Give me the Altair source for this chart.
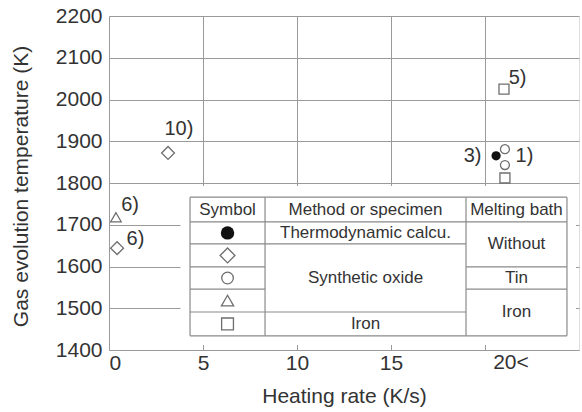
import altair as alt
import pandas as pd

FONT = "Liberation Sans"
INK = "#333333"
GRID = "#9a9a9a"
EDGE = "#8a8a8a"
MARK = "#6e6e6e"

# ---------------- data ----------------
pt_rate = [20.59, 21.06, 21.06, 21.06, 21.01, 3.14, 0.37, 0.43]
pt_temp = [1865, 1881, 1843, 1812, 2025, 1872, 1718, 1644]
pt_kind = ["calc", "oxide_tin", "oxide_tin", "iron_iron", "iron_iron",
           "oxide_none", "oxide_iron", "oxide_none"]

lab_text = ["5)", "3)", "1)", "10)", "6)", "6)"]
lab_rate = [21.73, 19.34, 22.10, 3.72, 1.12, 1.41]
lab_temp = [2051, 1865, 1865, 1929, 1747, 1665]

x_ticks = [0, 5, 10, 15, 20]
y_ticks = [1400, 1500, 1600, 1700, 1800, 1900, 2000, 2100, 2200]

legend_kind = ["calc", "oxide_none", "oxide_tin", "oxide_iron", "iron_iron"]
header = ["Symbol", "Method or specimen", "Melting bath"]
method_text = ["Thermodynamic calcu.", "Synthetic oxide", "Iron"]
method_span = [(0, 1), (1, 4), (4, 5)]
bath_text = ["Without", "Tin", "Iron"]
bath_span = [(0, 2), (2, 3), (3, 5)]

# ---------------- layout / styles ----------------
W, H = 470, 334
col_edges = [4.31, 8.30, 18.99, 24.36]
row_edges = [1766, 1707, 1654, 1599, 1546, 1491, 1434]  # top, header bottom, body rows
pad_box = dict(x=3.80, x2=24.84, y=1412, y2=1793)

shape_of = {"calc": "circle", "oxide_none": "diamond", "oxide_tin": "circle",
            "oxide_iron": "triangle-up", "iron_iron": "square"}
pt_size = {"calc": 85, "oxide_none": 165, "oxide_tin": 80, "oxide_iron": 110, "iron_iron": 100}
leg_size = {"calc": 180, "oxide_none": 220, "oxide_tin": 135, "oxide_iron": 150, "iron_iron": 140}

xs = alt.Scale(domain=[0, 25], nice=False, zero=False)
ys = alt.Scale(domain=[1400, 2200], nice=False, zero=False)

pts = pd.DataFrame({"rate": pt_rate, "temp": pt_temp, "kind": pt_kind})
pts["shape"] = pts["kind"].map(shape_of)
pts["size"] = pts["kind"].map(pt_size)

labs = pd.DataFrame({"rate": lab_rate, "temp": lab_temp, "text": lab_text})

# table segments
body = row_edges[1:]
row_mid = [(body[i] + body[i + 1]) / 2 for i in range(len(body) - 1)]
segs = []
for y in (row_edges[0], row_edges[1], row_edges[-1]):
    segs.append((col_edges[0], col_edges[-1], y, y))
for x in col_edges:
    segs.append((x, x, row_edges[0], row_edges[-1]))
for i in range(1, len(body) - 1):
    segs.append((col_edges[0], col_edges[1], body[i], body[i]))
for spans, c in ((method_span, 1), (bath_span, 2)):
    for a, b in spans[:-1]:
        segs.append((col_edges[c], col_edges[c + 1], body[b], body[b]))
seg_df = pd.DataFrame(segs, columns=["x", "x2", "y", "y2"])

col_mid = [(col_edges[i] + col_edges[i + 1]) / 2 for i in range(3)]
cells = []
for i, t in enumerate(header):
    cells.append((col_mid[i], (row_edges[0] + row_edges[1]) / 2, t))
for t, (a, b) in zip(method_text, method_span):
    cells.append((col_mid[1], (body[a] + body[b]) / 2, t))
for t, (a, b) in zip(bath_text, bath_span):
    cells.append((col_mid[2], (body[a] + body[b]) / 2, t))
cell_df = pd.DataFrame(cells, columns=["x", "y", "text"])

leg = pd.DataFrame({"kind": legend_kind, "x": col_mid[0], "y": row_mid})
leg["shape"] = leg["kind"].map(shape_of)
leg["size"] = leg["kind"].map(leg_size)

# ---------------- chart ----------------
x_axis = alt.Axis(values=x_ticks, labelExpr="datum.value == 20 ? '' : datum.label",
                  grid=True, gridColor=GRID, gridWidth=1, domain=False, ticks=False,
                  tickSize=0, labelPadding=2, labelFontSize=21, labelFont=FONT,
                  labelColor=INK, labelBaseline="top", title="Heating rate (K/s)",
                  titleFont=FONT, titleFontSize=21, titleFontWeight="normal",
                  titleColor=INK, titleY=52, titleBaseline="alphabetic")
y_axis = alt.Axis(values=y_ticks, format="d", grid=True, gridColor=GRID, gridWidth=1,
                  domain=False, ticks=False, tickSize=0, labelPadding=7, labelFontSize=21,
                  labelFont=FONT, labelColor=INK, title="Gas evolution temperature (K)",
                  titleFont=FONT, titleFontSize=21, titleFontWeight="normal",
                  titleColor=INK, titleAngle=270, titleX=-82, titleY=170,
                  titleAlign="center", titleBaseline="alphabetic", titleLimit=400)

base = alt.Chart(pts).encode(
    x=alt.X("rate:Q", scale=xs, axis=x_axis),
    y=alt.Y("temp:Q", scale=ys, axis=y_axis),
)

open_pts = base.transform_filter("datum.kind != 'calc'").mark_point(
    filled=False, stroke=MARK, strokeWidth=1.3, opacity=1
).encode(shape=alt.Shape("shape:N", scale=None, legend=None),
         size=alt.Size("size:Q", scale=None, legend=None))
full_pts = base.transform_filter("datum.kind == 'calc'").mark_point(
    filled=True, color="#111111", opacity=1
).encode(shape=alt.Shape("shape:N", scale=None, legend=None),
         size=alt.Size("size:Q", scale=None, legend=None))

labels = alt.Chart(labs).mark_text(font=FONT, fontSize=20, color=INK).encode(
    x=alt.X("rate:Q", scale=xs), y=alt.Y("temp:Q", scale=ys), text="text:N")

box = alt.Chart(pd.DataFrame([pad_box])).mark_rect(fill="white", stroke=None).encode(
    x=alt.X("x:Q", scale=xs), x2="x2:Q", y=alt.Y("y:Q", scale=ys), y2="y2:Q")

rules = alt.Chart(seg_df).mark_rule(color=EDGE, strokeWidth=1.2).encode(
    x=alt.X("x:Q", scale=xs), x2="x2:Q", y=alt.Y("y:Q", scale=ys), y2="y2:Q")

cell_text = alt.Chart(cell_df).mark_text(font=FONT, fontSize=17, color=INK).encode(
    x=alt.X("x:Q", scale=xs), y=alt.Y("y:Q", scale=ys), text="text:N")

leg_open = alt.Chart(leg).transform_filter("datum.kind != 'calc'").mark_point(
    filled=False, stroke=MARK, strokeWidth=1.3, opacity=1
).encode(x=alt.X("x:Q", scale=xs), y=alt.Y("y:Q", scale=ys),
         shape=alt.Shape("shape:N", scale=None, legend=None),
         size=alt.Size("size:Q", scale=None, legend=None))
leg_full = alt.Chart(leg).transform_filter("datum.kind == 'calc'").mark_point(
    filled=True, color="#111111", opacity=1
).encode(x=alt.X("x:Q", scale=xs), y=alt.Y("y:Q", scale=ys),
         shape=alt.Shape("shape:N", scale=None, legend=None),
         size=alt.Size("size:Q", scale=None, legend=None))

last_tick = alt.Chart(pd.DataFrame({"x": [21.38], "t": ["20<"]})).mark_text(
    font=FONT, fontSize=21, color=INK, baseline="top"
).encode(x=alt.X("x:Q", scale=xs), y=alt.value(H + 2), text="t:N")

chart = alt.layer(
    open_pts, full_pts, labels, box, rules, cell_text, leg_open, leg_full, last_tick
).properties(
    width=W, height=H,
    autosize=alt.AutoSizeParams(type="none"),
    padding={"left": 109, "top": 16, "right": 3, "bottom": 62},
).configure_view(stroke=EDGE, strokeWidth=1.5).configure(background="white")

chart.save("out.html", embed_options={"renderer": "svg", "actions": False})
